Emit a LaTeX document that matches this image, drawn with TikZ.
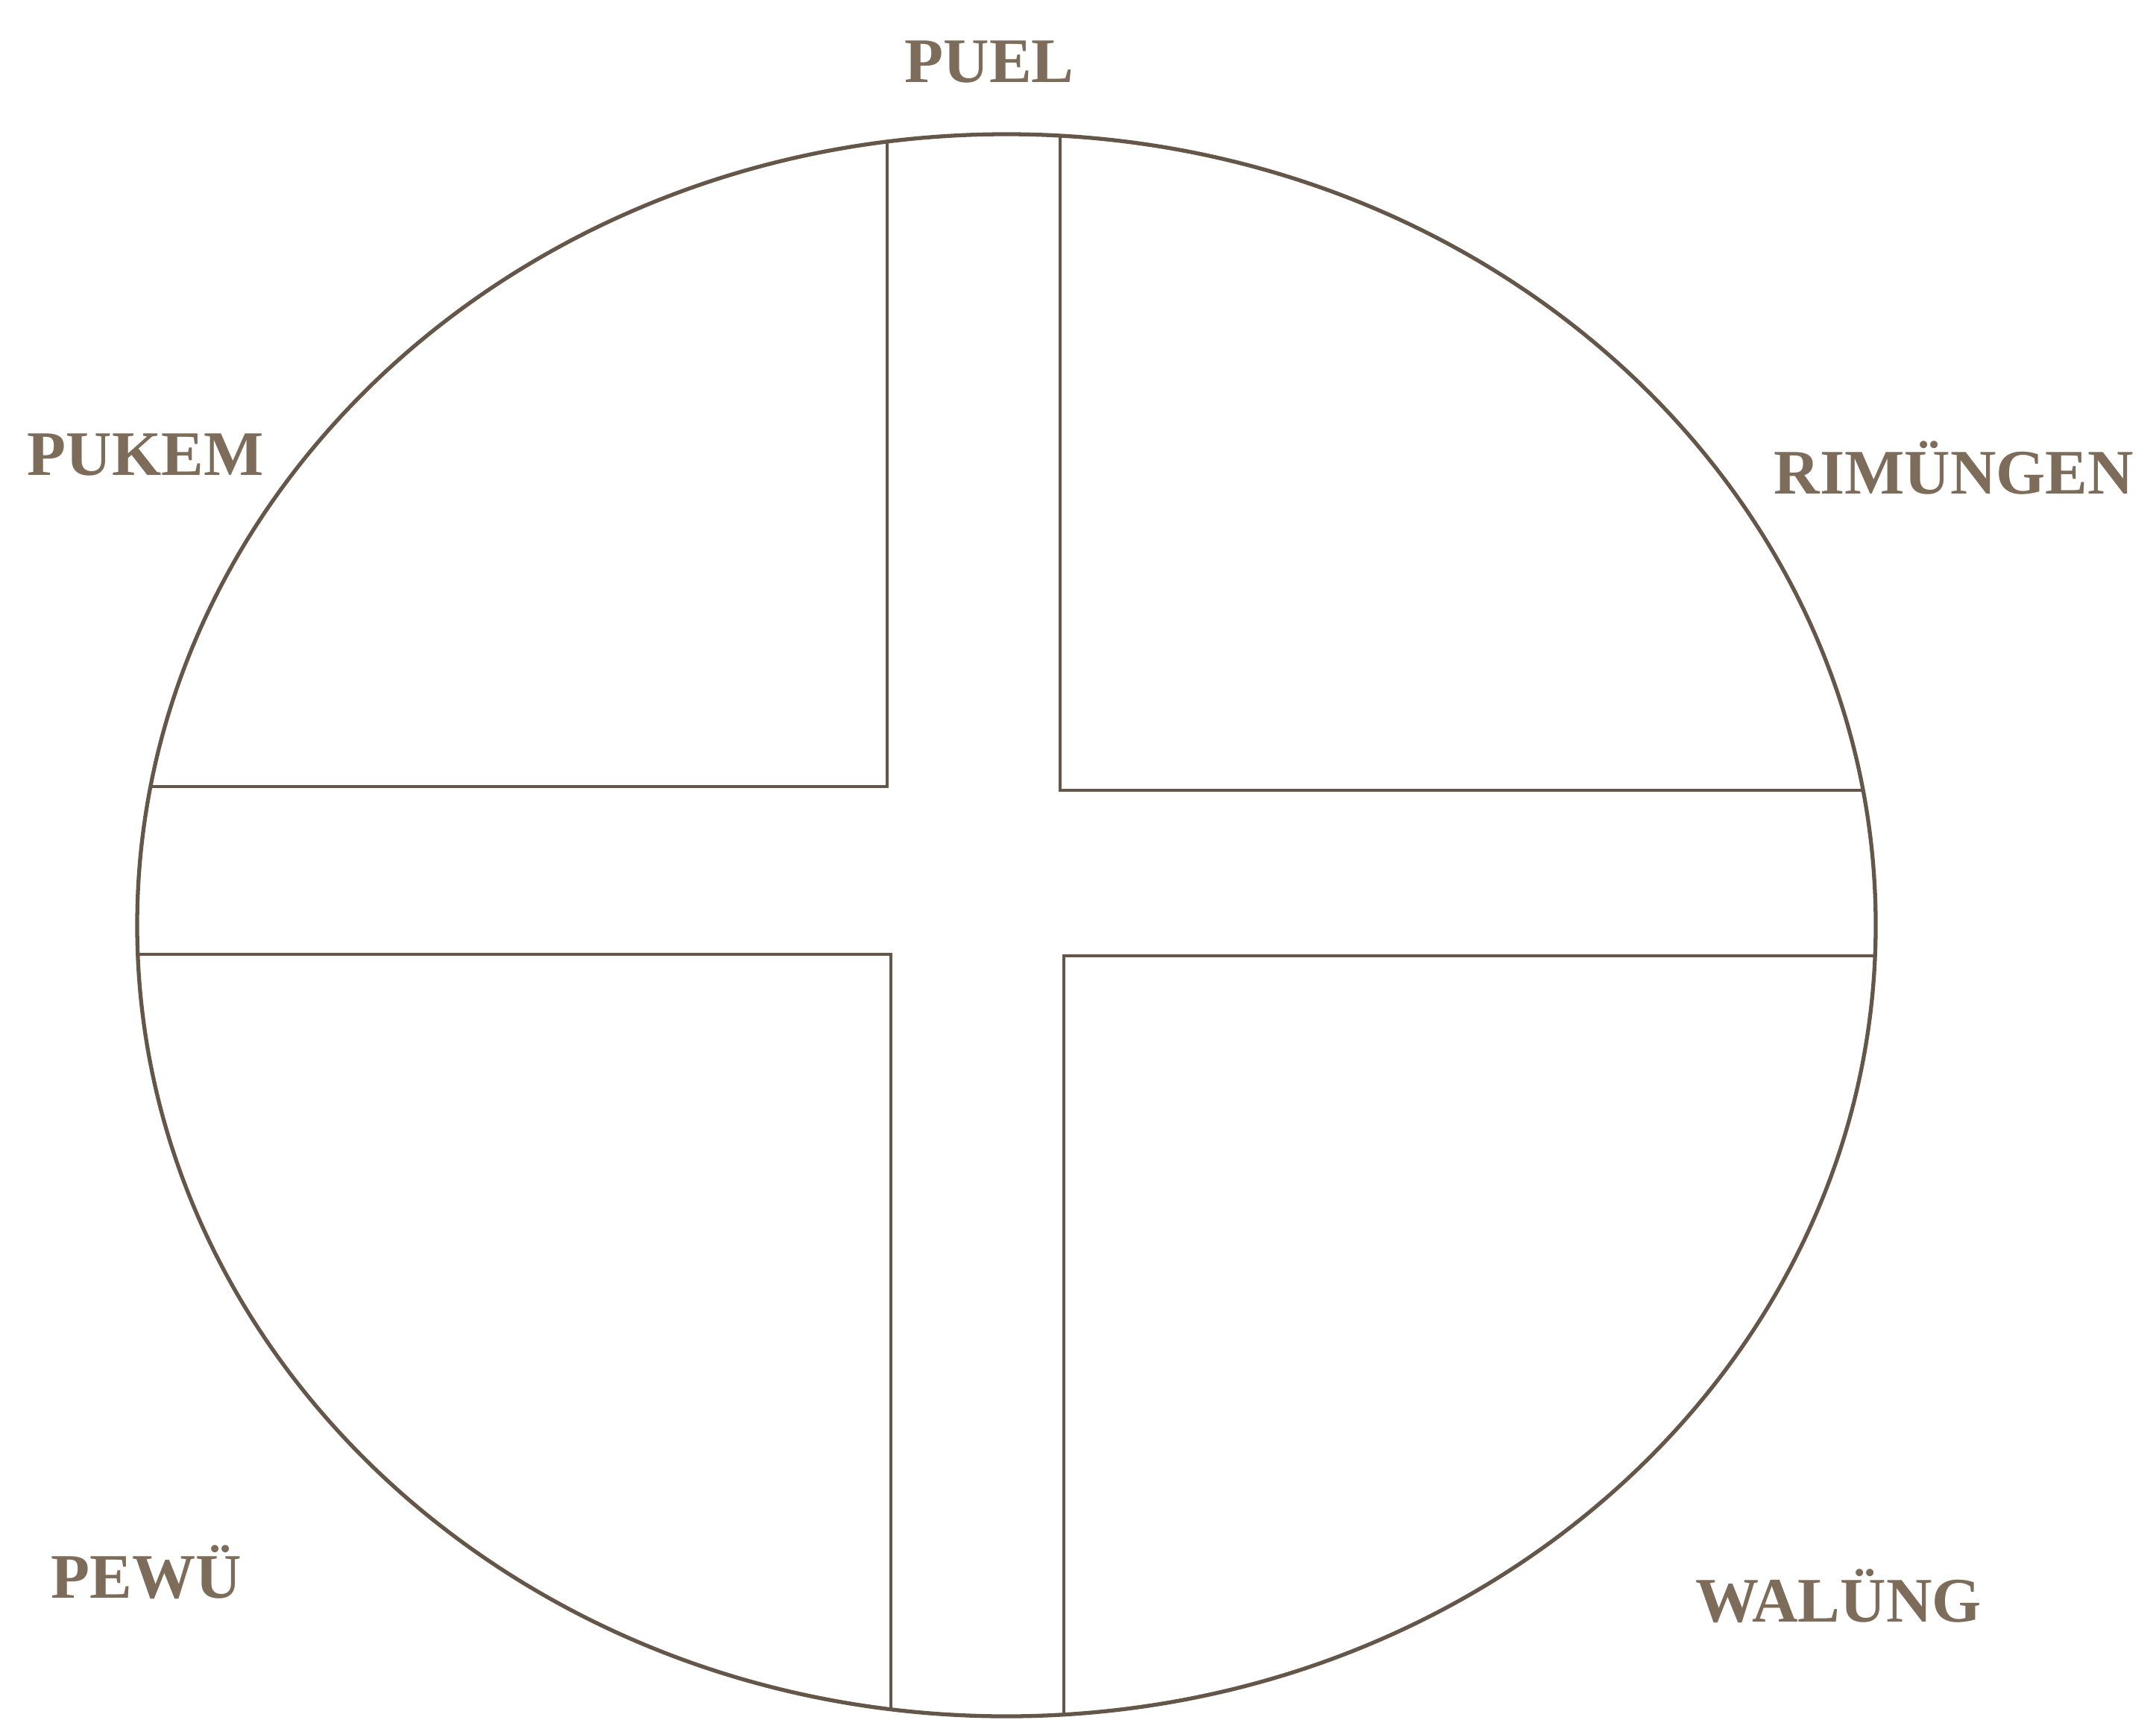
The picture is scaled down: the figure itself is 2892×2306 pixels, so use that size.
\documentclass[tikz,border=0pt]{standalone}
\usepackage{fontspec}
\setmainfont{Liberation Serif}
\definecolor{ink}{RGB}{100,86,72}
\definecolor{labelink}{RGB}{125,108,90}
\tikzset{
  rim/.style={draw=ink, line width=1.5pt},
  bar/.style={draw=ink, line width=1.4pt, line join=miter},
  lbl/.style={text=labelink, font=\fontsize{24.2}{28}\selectfont\bfseries, inner sep=0pt, anchor=base west}
}
\begin{document}
\begin{tikzpicture}[x=0.01cm, y=-0.01cm]
\useasboundingbox (0,0) rectangle (2892,2306);
% ellipse
\coordinate (c) at (1350,1241);
\draw[rim] (c) ellipse [x radius=1166, y radius=1061];
\begin{scope}
  \clip (c) ellipse [x radius=1166, y radius=1061];
  \draw[bar] (1190,0) -- (1190,1055) -- (0,1055);
  \draw[bar] (1422,0) -- (1422,1060) -- (2892,1060);
  \draw[bar] (0,1280) -- (1195,1280) -- (1195,2400);
  \draw[bar] (2892,1282) -- (1427,1282) -- (1427,2400);
\end{scope}
% labels
\node[lbl] (puel) at (1213,111) {PUEL};
\node[lbl] (pukem) at (36,637) {PUKEM};
\node[lbl] (rim) at (2379,662) {RIMÜNGEN};
\node[lbl] (pewu) at (68,2143) {PEWÜ};
\node[lbl] (walung) at (2274,2175) {WALÜNG};
\end{tikzpicture}
\end{document}
